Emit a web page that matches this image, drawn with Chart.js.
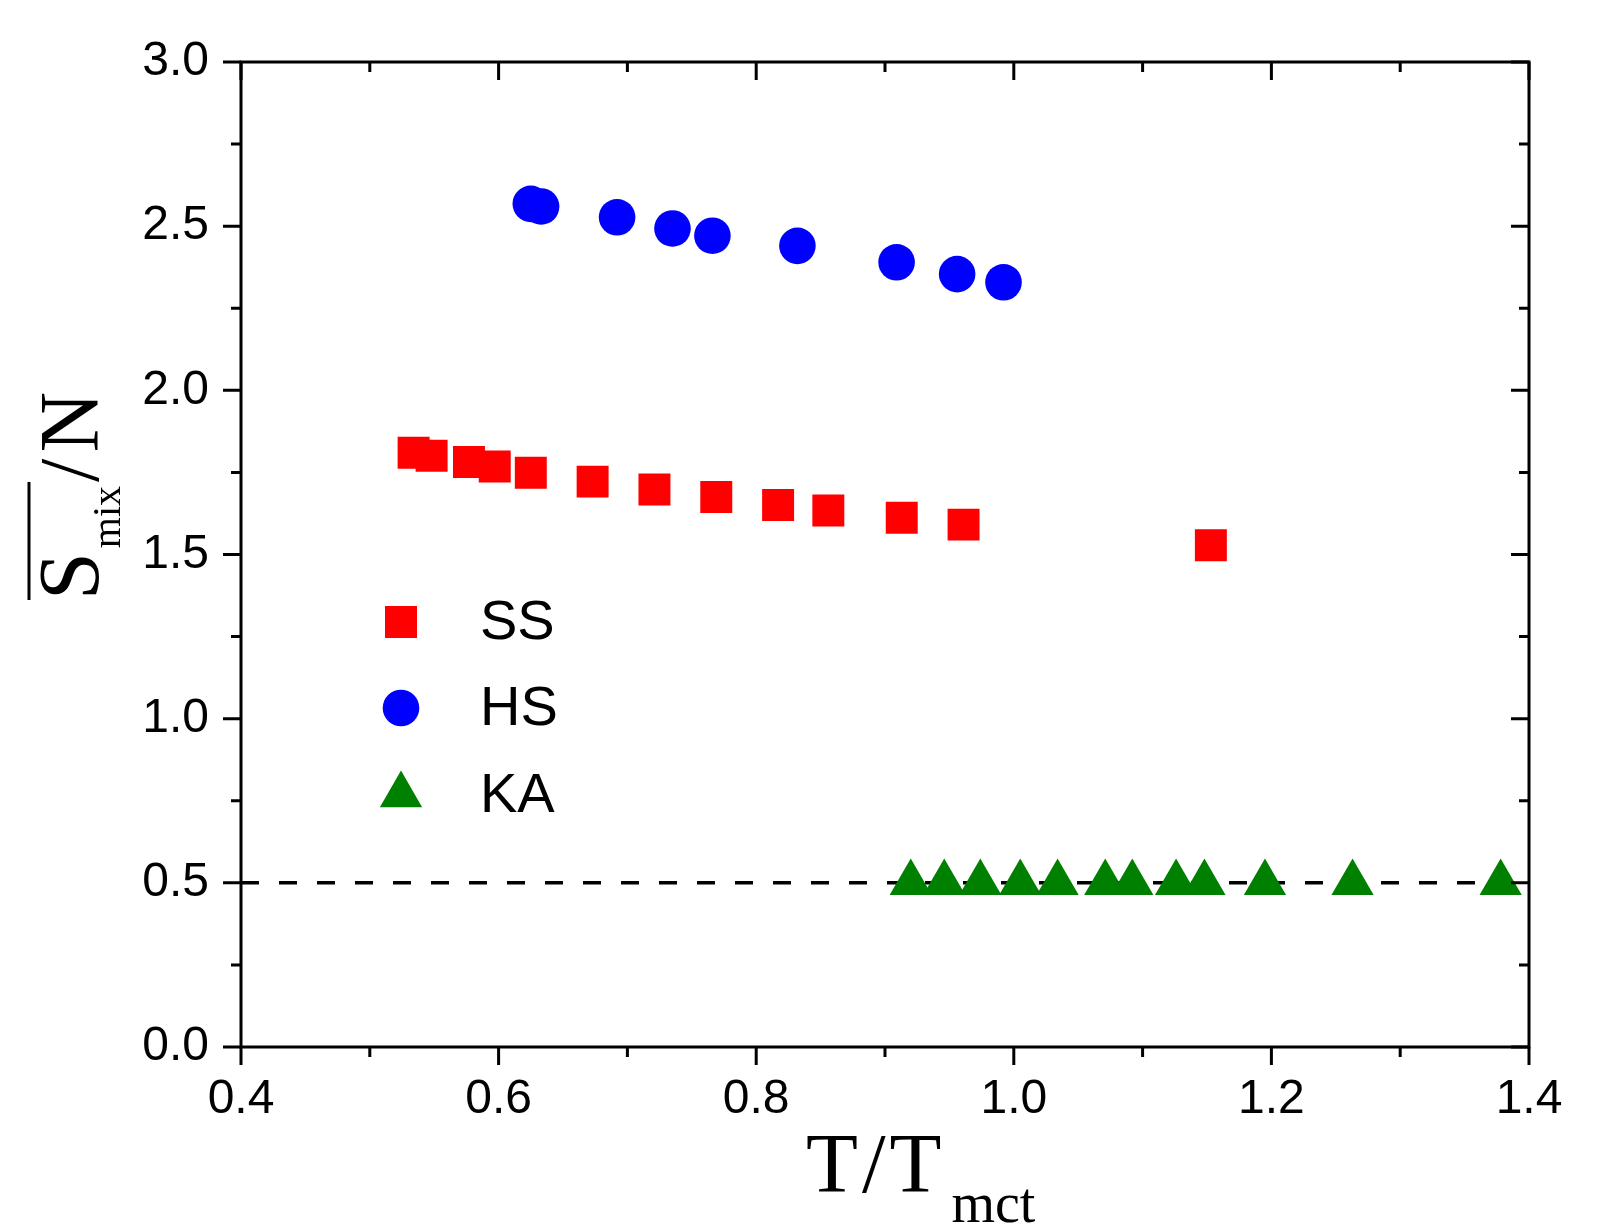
<!DOCTYPE html>
<html>
<head>
<meta charset="utf-8">
<script src="https://cdn.jsdelivr.net/npm/chart.js@4.4.0/dist/chart.umd.min.js"></script>
<style>
  html, body { margin: 0; padding: 0; background: #fff; }
  #wrap { width: 1609px; height: 1232px; }
</style>
</head>
<body>
<div id="wrap"><canvas id="chart" width="1609" height="1232"></canvas></div>
<script>
// data
const ssT = [0.534, 0.548, 0.577, 0.597, 0.625, 0.673, 0.721, 0.769, 0.817, 0.856, 0.913, 0.961, 1.153];
const ssS = [1.810, 1.801, 1.782, 1.768, 1.749, 1.722, 1.698, 1.675, 1.651, 1.634, 1.612, 1.591, 1.528];

const hsT = [0.625, 0.633, 0.692, 0.735, 0.766, 0.832, 0.909, 0.956, 0.992];
const hsS = [2.568, 2.560, 2.527, 2.493, 2.471, 2.440, 2.390, 2.354, 2.329];

const kaT = [0.920, 0.946, 0.974, 1.005, 1.034, 1.071, 1.092, 1.126, 1.148, 1.195, 1.263, 1.378];
const kaS = [0.50, 0.50, 0.50, 0.50, 0.50, 0.50, 0.50, 0.50, 0.50, 0.50, 0.50, 0.50];

// dashed reference line at 0.5
const refT = [0.4, 1.4];
const refS = [0.5, 0.5];

const xMajor = [0.4, 0.6, 0.8, 1.0, 1.2, 1.4];
const yMajor = [0.0, 0.5, 1.0, 1.5, 2.0, 2.5, 3.0];

const seriesNames = ["SS", "HS", "KA"];

function pts(xs, ys) {
    return xs.map((x, i) => ({ x: x, y: ys[i] }));
}
function isMajor(v, list) {
    return list.some(m => Math.abs(m - v) < 1e-6);
}

// frame, inward/outward ticks, axis titles, legend
const decorPlugin = {
    id: "decor",
    afterDraw(chart) {
        const ctx = chart.ctx;
        const ca = chart.chartArea;
        const xs = chart.scales.x, ys = chart.scales.y;
        ctx.save();
        ctx.strokeStyle = "#000";
        ctx.lineWidth = 3;
        ctx.lineCap = "butt";
        ctx.strokeRect(ca.left, ca.top, ca.right - ca.left, ca.bottom - ca.top);

        ctx.beginPath();
        xs.ticks.forEach(t => {
            const px = xs.getPixelForValue(t.value);
            const len = isMajor(t.value, xMajor) ? 18 : 10;
            ctx.moveTo(px, ca.bottom); ctx.lineTo(px, ca.bottom + len);
            ctx.moveTo(px, ca.top); ctx.lineTo(px, ca.top + len);
        });
        ys.ticks.forEach(t => {
            const py = ys.getPixelForValue(t.value);
            const len = isMajor(t.value, yMajor) ? 18 : 10;
            ctx.moveTo(ca.left, py); ctx.lineTo(ca.left - len, py);
            ctx.moveTo(ca.right, py); ctx.lineTo(ca.right - len, py);
        });
        ctx.stroke();

        // x title: T/T_mct
        ctx.fillStyle = "#000";
        ctx.textBaseline = "alphabetic";
        ctx.textAlign = "left";
        let x = 806;
        ctx.font = '85px "Liberation Serif"';
        ctx.fillText("T", x, 1192);
        x += ctx.measureText("T").width + 4;
        ctx.fillText("/", x, 1192);
        x += ctx.measureText("/").width + 4;
        ctx.fillText("T", x, 1192);
        x += ctx.measureText("T").width + 10;
        ctx.font = '56px "Liberation Serif"';
        ctx.fillText("mct", x, 1222);

        // y title: overline S_mix / N, rotated
        ctx.save();
        ctx.translate(98, 600);
        ctx.rotate(-Math.PI / 2);
        let p = 0;
        ctx.font = '86px "Liberation Serif"';
        ctx.fillText("S", p, 0);
        p += ctx.measureText("S").width + 4;
        ctx.font = '40px "Liberation Serif"';
        ctx.fillText("mix", p, 22);
        const overEnd = p + ctx.measureText("mix").width + 4;
        p = overEnd;
        ctx.font = '84px "Liberation Serif"';
        ctx.fillText("/", p, 0);
        p += ctx.measureText("/").width + 6;
        ctx.fillText("N", p, 0);
        ctx.lineWidth = 3;
        ctx.beginPath();
        ctx.moveTo(0, -69);
        ctx.lineTo(overEnd, -69);
        ctx.stroke();
        ctx.restore();

        // legend
        const rows = [622, 708, 795];
        chart.data.datasets.slice(0, 3).forEach((ds, i) => {
            ctx.fillStyle = ds.backgroundColor;
            Chart.helpers.drawPoint(ctx, {
                pointStyle: ds.pointStyle, radius: ds.pointRadius, rotation: 0, borderWidth: 0
            }, 401, rows[i]);
            ctx.fillStyle = "#000";
            ctx.font = '56px "Liberation Sans"';
            ctx.textBaseline = "middle";
            ctx.fillText(seriesNames[i], 480, rows[i] + 2);
            ctx.textBaseline = "alphabetic";
        });
        ctx.restore();
    }
};

const chart = new Chart(document.getElementById("chart").getContext("2d"), {
    type: "scatter",
    data: {
        datasets: [
            {
                label: seriesNames[0], data: pts(ssT, ssS),
                backgroundColor: "#ff0000", borderColor: "#ff0000",
                pointStyle: "rect", pointRadius: 22.6, pointBorderWidth: 0, order: 1
            },
            {
                label: seriesNames[1], data: pts(hsT, hsS),
                backgroundColor: "#0000ff", borderColor: "#0000ff",
                pointStyle: "circle", pointRadius: 18.3, pointBorderWidth: 0, order: 1
            },
            {
                label: seriesNames[2], data: pts(kaT, kaS),
                backgroundColor: "#008000", borderColor: "#008000",
                pointStyle: "triangle", pointRadius: 24.4, pointBorderWidth: 0, order: 1
            },
            {
                label: "ref", data: pts(refT, refS), showLine: true,
                borderColor: "#000", borderWidth: 3.5, borderDash: [18, 20],
                pointRadius: 0, order: 5
            }
        ]
    },
    options: {
        responsive: false,
        devicePixelRatio: 1,
        animation: false,
        layout: { padding: { top: 62, right: 80, left: 0, bottom: 0 } },
        plugins: { legend: { display: false }, tooltip: { enabled: false } },
        scales: {
            x: {
                type: "linear", min: 0.4, max: 1.4,
                border: { display: false },
                grid: { color: "rgba(0,0,0,0)", drawTicks: true, tickLength: 18 },
                ticks: {
                    stepSize: 0.1, autoSkip: false, maxRotation: 0, padding: 6,
                    color: "#000", font: { family: "Liberation Sans", size: 48 },
                    callback: v => isMajor(v, xMajor) ? v.toFixed(1) : ""
                },
                afterFit: s => { s.height = 185; }
            },
            y: {
                type: "linear", min: 0, max: 3,
                border: { display: false },
                grid: { color: "rgba(0,0,0,0)", drawTicks: true, tickLength: 18 },
                ticks: {
                    stepSize: 0.25, autoSkip: false, padding: 14,
                    color: "#000", font: { family: "Liberation Sans", size: 48 },
                    callback: v => isMajor(v, yMajor) ? v.toFixed(1) : ""
                },
                afterFit: s => { s.width = 241; }
            }
        }
    },
    plugins: [decorPlugin]
});
</script>
</body>
</html>
